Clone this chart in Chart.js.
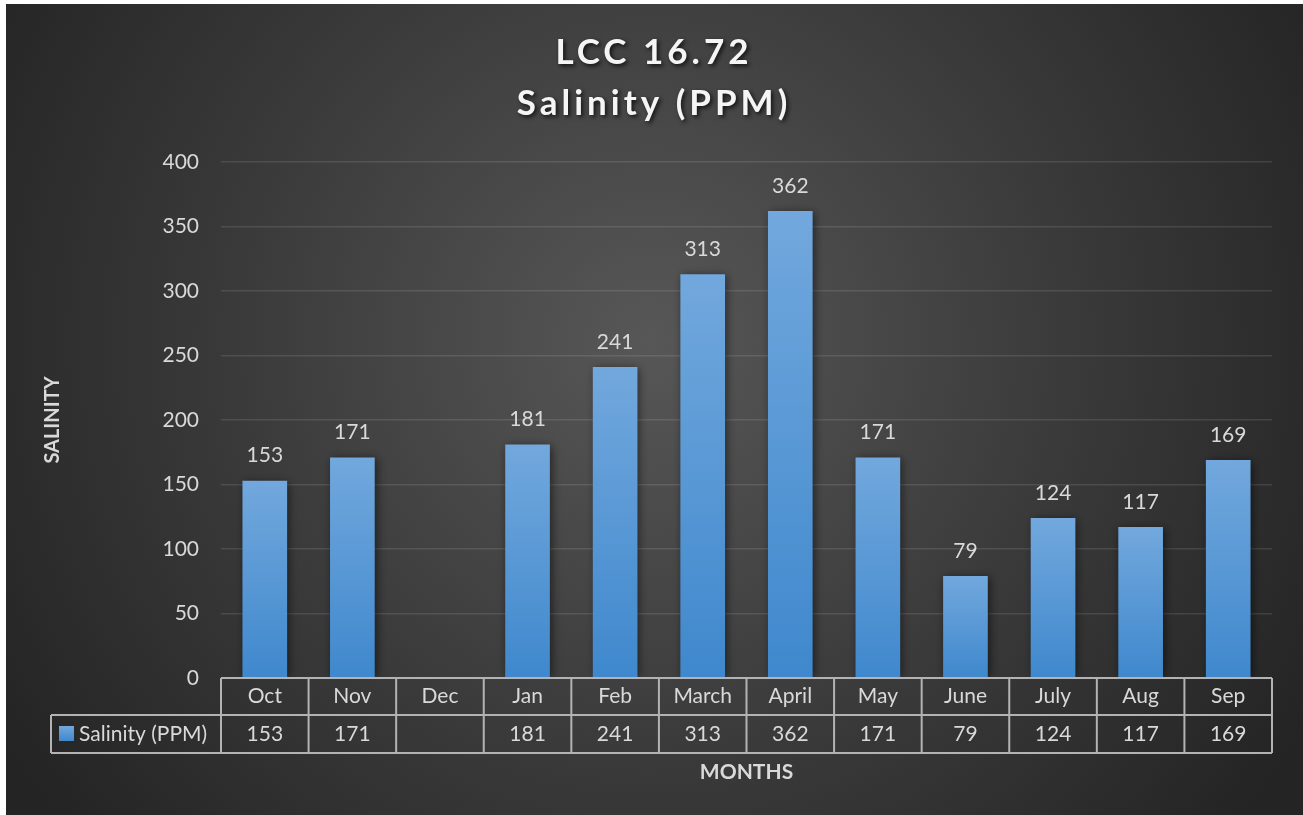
<!DOCTYPE html>
<html>
<head>
<meta charset="utf-8">
<script src="https://cdn.jsdelivr.net/npm/chart.js@4"></script>
<style>
  html, body { margin: 0; padding: 0; background: #ffffff; }
  #wrap { width: 1303px; height: 815px; position: relative; }
</style>
</head>
<body>
<div id="wrap"><canvas id="salinityChart"></canvas></div>
<script>
// Chart data
const months = ['Oct', 'Nov', 'Dec', 'Jan', 'Feb', 'March', 'April', 'May', 'June', 'July', 'Aug', 'Sep'];
const salinity = [153, 171, null, 181, 241, 313, 362, 171, 79, 124, 117, 169];
const seriesName = 'Salinity (PPM)';
const titleLines = ['LCC 16.72', 'Salinity (PPM)'];
const yMin = 0;
const yMax = 400;
const yStep = 50;

const textColor = '#d9d9d9';
const lineColor = '#b3b3b3';
const fontFamily = 'Lato, "Open Sans", sans-serif';

function barGradient(ctx, top, bottom) {
    const g = ctx.createLinearGradient(0, top, 0, bottom);
    g.addColorStop(0, '#72a8dd');
    g.addColorStop(1, '#3f88cd');
    return g;
}

// Background + white margin
const backgroundPlugin = {
    id: 'background',
    beforeDraw(chart) {
        const ctx = chart.ctx;
        ctx.save();
        ctx.fillStyle = '#ffffff';
        ctx.fillRect(0, 0, chart.width, chart.height);
        const g = ctx.createRadialGradient(650, 340, 0, 650, 340, 760);
        g.addColorStop(0, '#575757');
        g.addColorStop(0.55, '#3a3a3a');
        g.addColorStop(1, '#242424');
        ctx.fillStyle = g;
        ctx.fillRect(6, 4, chart.width - 6, chart.height - 4);
        ctx.restore();
    }
};

// Two line title with shadow
const titlePlugin = {
    id: 'shadowTitle',
    afterDraw(chart) {
        const ctx = chart.ctx;
        ctx.save();
        ctx.font = 'bold 35px ' + fontFamily;
        ctx.letterSpacing = '4px';
        ctx.textAlign = 'center';
        ctx.textBaseline = 'middle';
        ctx.fillStyle = '#f5f5f5';
        ctx.shadowColor = 'rgba(0, 0, 0, 0.75)';
        ctx.shadowBlur = 4;
        ctx.shadowOffsetX = 2;
        ctx.shadowOffsetY = 2;
        ctx.fillText(titleLines[0], 654, 53);
        ctx.fillText(titleLines[1], 654, 104);
        ctx.restore();
    }
};

// Soft shadow under the bars
const barShadowPlugin = {
    id: 'barShadow',
    beforeDatasetsDraw(chart) {
        const ctx = chart.ctx;
        ctx.save();
        ctx.shadowColor = 'rgba(0, 0, 0, 0.55)';
        ctx.shadowBlur = 9;
        ctx.shadowOffsetX = 2;
        ctx.shadowOffsetY = 1;
    },
    afterDatasetsDraw(chart) {
        chart.ctx.restore();
    }
};

// Value labels above the bars
const valueLabelPlugin = {
    id: 'valueLabels',
    afterDatasetsDraw(chart) {
        const ctx = chart.ctx;
        const meta = chart.getDatasetMeta(0);
        ctx.save();
        ctx.font = '21px ' + fontFamily;
        ctx.fillStyle = textColor;
        ctx.textAlign = 'center';
        ctx.textBaseline = 'middle';
        meta.data.forEach((bar, i) => {
            const v = salinity[i];
            if (v === null) return;
            ctx.fillText(String(v), bar.x, bar.y - 25);
        });
        ctx.restore();
    }
};

// Data table under the plot
const dataTablePlugin = {
    id: 'dataTable',
    afterDraw(chart) {
        const ctx = chart.ctx;
        const area = chart.chartArea;
        const x = chart.scales.x;
        const colW = (area.right - area.left) / months.length;
        const rowTop = area.bottom;
        const rowMid = rowTop + 37;
        const rowBot = rowMid + 38;
        const legendLeft = 51;

        ctx.save();
        ctx.strokeStyle = lineColor;
        ctx.lineWidth = 2;
        ctx.beginPath();
        ctx.moveTo(area.left, rowTop); ctx.lineTo(area.right, rowTop);
        ctx.moveTo(legendLeft, rowMid); ctx.lineTo(area.right, rowMid);
        ctx.moveTo(legendLeft, rowBot); ctx.lineTo(area.right, rowBot);
        ctx.moveTo(legendLeft, rowMid); ctx.lineTo(legendLeft, rowBot);
        for (let i = 0; i <= months.length; i++) {
            const cx = area.left + i * colW;
            ctx.moveTo(cx, rowTop); ctx.lineTo(cx, rowBot);
        }
        ctx.stroke();

        ctx.font = '21px ' + fontFamily;
        ctx.fillStyle = textColor;
        ctx.textAlign = 'center';
        ctx.textBaseline = 'middle';
        salinity.forEach((v, i) => {
            if (v === null) return;
            ctx.fillText(String(v), x.getPixelForValue(i), (rowMid + rowBot) / 2);
        });

        // legend key
        ctx.fillStyle = barGradient(ctx, rowMid + 11, rowMid + 26);
        ctx.fillRect(59, rowMid + 11, 15, 15);
        ctx.fillStyle = textColor;
        ctx.textAlign = 'left';
        ctx.fillText(seriesName, 79, (rowMid + rowBot) / 2);
        ctx.restore();
    }
};

function initSalinityChart() {
    const el = document.getElementById('salinityChart');
    new Chart(el, {
        type: 'bar',
        data: {
            labels: months,
            datasets: [{
                label: seriesName,
                data: salinity,
                backgroundColor: function(context) {
                    const chart = context.chart;
                    const y = chart.scales.y;
                    const v = salinity[context.dataIndex];
                    if (!chart.chartArea || !y || v === null || v === undefined) return '#5b9bd5';
                    const top = y.getPixelForValue(v);
                    const bottom = y.getPixelForValue(0);
                    if (!isFinite(top) || !isFinite(bottom)) return '#5b9bd5';
                    return barGradient(chart.ctx, top, bottom);
                },
                borderWidth: 0,
                barPercentage: 0.51,
                categoryPercentage: 1.0
            }]
        },
        options: {
            responsive: true,
            maintainAspectRatio: false,
            animation: false,
            layout: {
                padding: { top: 162, right: 31, bottom: 0, left: 0 }
            },
            plugins: {
                legend: { display: false },
                title: { display: false },
                tooltip: { enabled: false }
            },
            scales: {
                x: {
                    grid: { display: false, drawTicks: false },
                    border: { display: false },
                    ticks: {
                        color: textColor,
                        padding: 6,
                        font: { family: fontFamily, size: 21 }
                    },
                    title: {
                        display: true,
                        text: 'MONTHS',
                        color: textColor,
                        font: { family: fontFamily, size: 21, weight: 'bold' },
                        padding: { top: 0, bottom: 30 }
                    },
                    afterFit(scale) { scale.height = 137; }
                },
                y: {
                    min: yMin,
                    max: yMax,
                    grid: {
                        color: 'rgba(255, 255, 255, 0.11)',
                        lineWidth: 1.5,
                        drawTicks: false
                    },
                    border: { display: false },
                    ticks: {
                        stepSize: yStep,
                        color: textColor,
                        padding: 22,
                        font: { family: fontFamily, size: 21 }
                    },
                    title: {
                        display: true,
                        text: 'SALINITY',
                        color: textColor,
                        font: { family: fontFamily, size: 20, weight: 'bold' },
                        padding: { top: 41, bottom: 0 }
                    },
                    afterFit(scale) { scale.width = 221; }
                }
            }
        },
        plugins: [backgroundPlugin, barShadowPlugin, valueLabelPlugin, dataTablePlugin, titlePlugin]
    });
}

initSalinityChart();
</script>
</body>
</html>
